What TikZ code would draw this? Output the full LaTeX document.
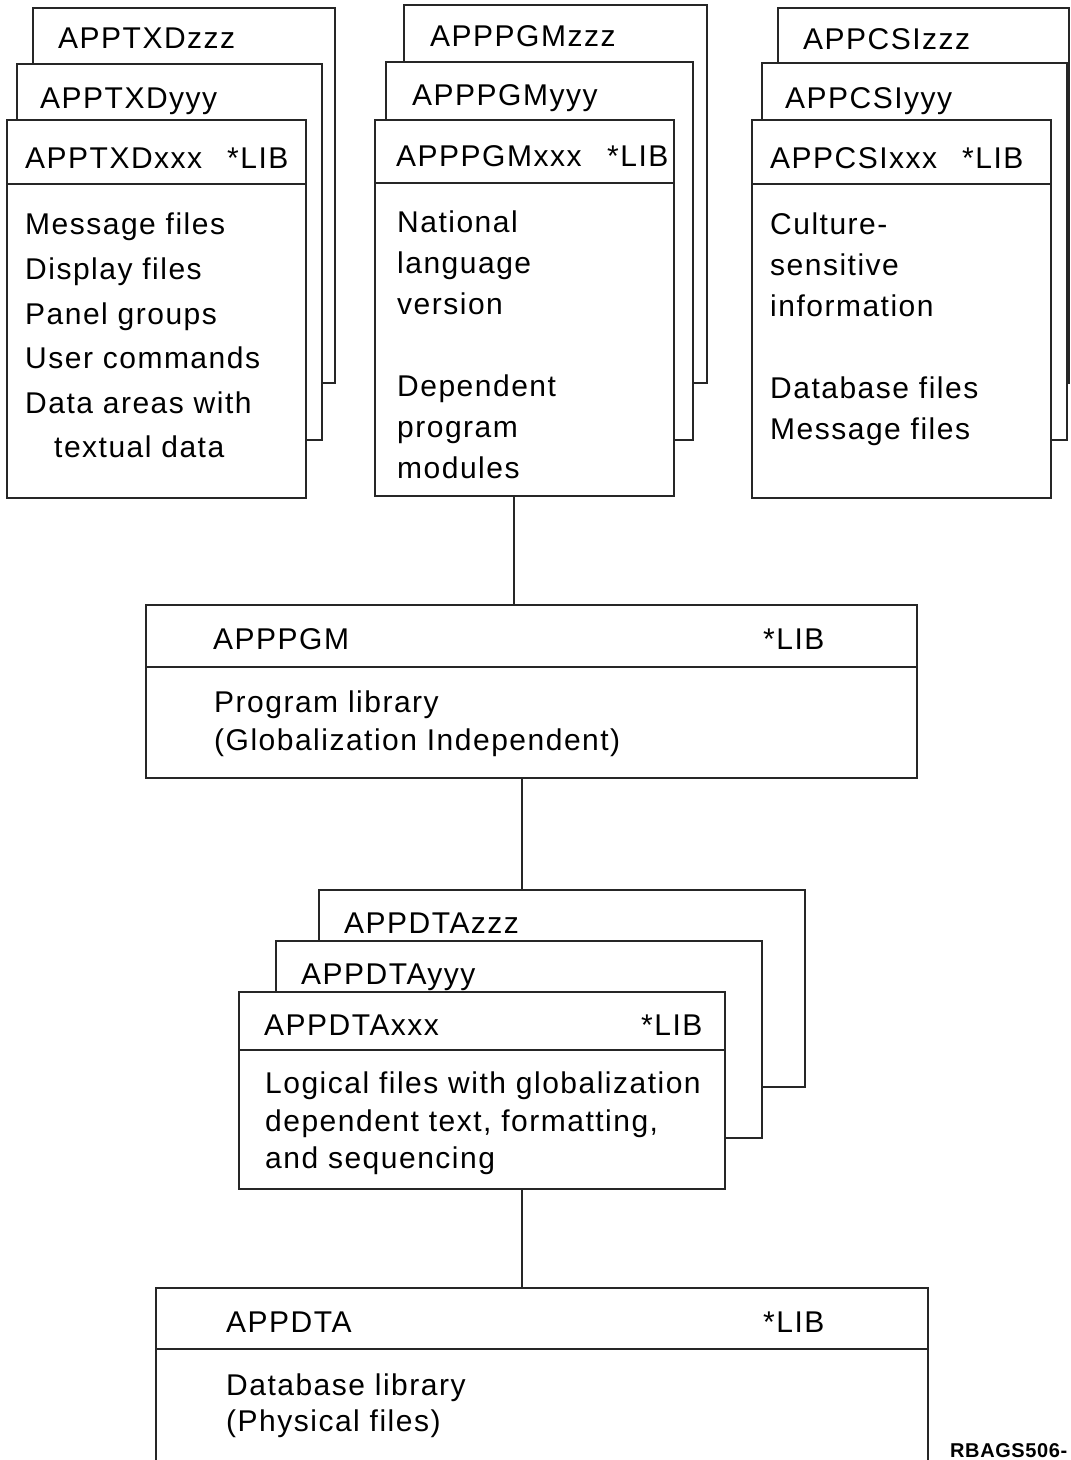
\documentclass[tikz,border=0pt]{standalone}
\usepackage{fontspec}
\setmainfont{Liberation Sans}[LetterSpace=5]
\newfontfamily\tagfont{Liberation Sans}[LetterSpace=3]
\usetikzlibrary{calc}
\begin{document}
\begin{tikzpicture}[x=1pt,y=-1pt,
  lib/.style={draw=black!85, line width=1.4pt, fill=white, inner sep=0pt, outer sep=0pt, anchor=north west},
  txt/.style={inner sep=0pt, anchor=base west, font=\fontsize{30}{36}\selectfont},
  body/.style={inner sep=0pt, anchor=north west, align=left},
  rule/.style={draw=black!85, line width=1.4pt},
  link/.style={draw=black!85, line width=1.6pt}]
\useasboundingbox (0,0) rectangle (1071,1460);
% ---------- left stack ----------
\node[lib, minimum width=302pt, minimum height=375pt] (txdz) at (33,8) {};
\node[lib, minimum width=305pt, minimum height=376pt] (txdy) at (17,64) {};
\node[lib, minimum width=299pt, minimum height=378pt] (txdx) at (7,120) {};
\draw[rule] (txdx.north west) ++(0,64) -- ++(299,0);
\node[txt] (t1) at (58,48) {APPTXDzzz};
\node[txt] (t2) at (40,108) {APPTXDyyy};
\node[txt] (t3) at (25,168) {APPTXDxxx};
\node[txt] (t3l) at (227,168) {*LIB};
\node[body, font=\fontsize{30}{44.6}\selectfont] (t4) at (25,213) {Message files\\Display files\\Panel groups\\User commands\\Data areas with\\\hspace*{29pt}textual data};
% ---------- middle stack ----------
\node[lib, minimum width=303pt, minimum height=378pt] (pgmz) at (404,5) {};
\node[lib, minimum width=307pt, minimum height=378pt] (pgmy) at (386,62) {};
\node[lib, minimum width=299pt, minimum height=376pt] (pgmx) at (375,120) {};
\draw[rule] (pgmx.north west) ++(0,63) -- ++(299,0);
\node[txt] (p1) at (430,46) {APPPGMzzz};
\node[txt] (p2) at (412,105) {APPPGMyyy};
\node[txt] (p3) at (396,166) {APPPGMxxx};
\node[txt] (p3l) at (607,166) {*LIB};
\node[body, font=\fontsize{30}{41}\selectfont] (p4) at (397,211) {National\\language\\version\\[41pt]Dependent\\program\\modules};
% ---------- right stack ----------
\node[lib, minimum width=291pt, minimum height=375pt] (csiz) at (778,8) {};
\node[lib, minimum width=305pt, minimum height=377pt] (csiy) at (762,63) {};
\node[lib, minimum width=299pt, minimum height=378pt] (csix) at (752,120) {};
\draw[rule] (csix.north west) ++(0,64) -- ++(299,0);
\node[txt] (c1) at (803,49) {APPCSIzzz};
\node[txt] (c2) at (785,108) {APPCSIyyy};
\node[txt] (c3) at (770,168) {APPCSIxxx};
\node[txt] (c3l) at (962,168) {*LIB};
\node[body, font=\fontsize{30}{41}\selectfont] (c4) at (770,213) {Culture-\\sensitive\\information\\[41pt]Database files\\Message files};
% ---------- program library ----------
\node[lib, minimum width=771pt, minimum height=173pt] (pgm) at (146,605) {};
\draw[rule] (pgm.north west) ++(0,62) -- ++(771,0);
\node[txt] (g1) at (213,649) {APPPGM};
\node[txt] (g1l) at (763,649) {*LIB};
\node[body, font=\fontsize{30}{38}\selectfont] (g2) at (214,691) {Program library\\(Globalization Independent)};
% ---------- data stack ----------
\node[lib, minimum width=486pt, minimum height=197pt] (dtaz) at (319,890) {};
\node[lib, minimum width=486pt, minimum height=197pt] (dtay) at (276,941) {};
\node[lib, minimum width=486pt, minimum height=197pt] (dtax) at (239,992) {};
\draw[rule] (dtax.north west) ++(0,58) -- ++(486,0);
\node[txt] (d1) at (344,933) {APPDTAzzz};
\node[txt] (d2) at (301,984) {APPDTAyyy};
\node[txt] (d3) at (264,1035) {APPDTAxxx};
\node[txt] (d3l) at (641,1035) {*LIB};
\node[body, font=\fontsize{30}{37.5}\selectfont] (d4) at (265,1072) {Logical files with globalization\\dependent text, formatting,\\and sequencing};
% ---------- database library ----------
\node[lib, minimum width=772pt, minimum height=200pt] (dta) at (156,1288) {};
\draw[rule] (dta.north west) ++(0,61) -- ++(772,0);
\node[txt] (b1) at (226,1332) {APPDTA};
\node[txt] (b1l) at (763,1332) {*LIB};
\node[body, font=\fontsize{30}{36}\selectfont] (b2) at (226,1374) {Database library\\(Physical files)};
\node[inner sep=0pt, anchor=base west, font=\tagfont\bfseries\fontsize{20}{24}\selectfont] (tag) at (950,1457) {RBAGS506-};
% ---------- connectors ----------
\coordinate (k1) at (514,0);
\coordinate (k2) at (522,0);
\draw[link] (k1 |- pgmx.south) -- (k1 |- pgm.north);
\draw[link] (k2 |- pgm.south) -- (k2 |- dtaz.north);
\draw[link, line width=2.2pt] (k2 |- dtax.south) -- (k2 |- dta.north);
\end{tikzpicture}
\end{document}
